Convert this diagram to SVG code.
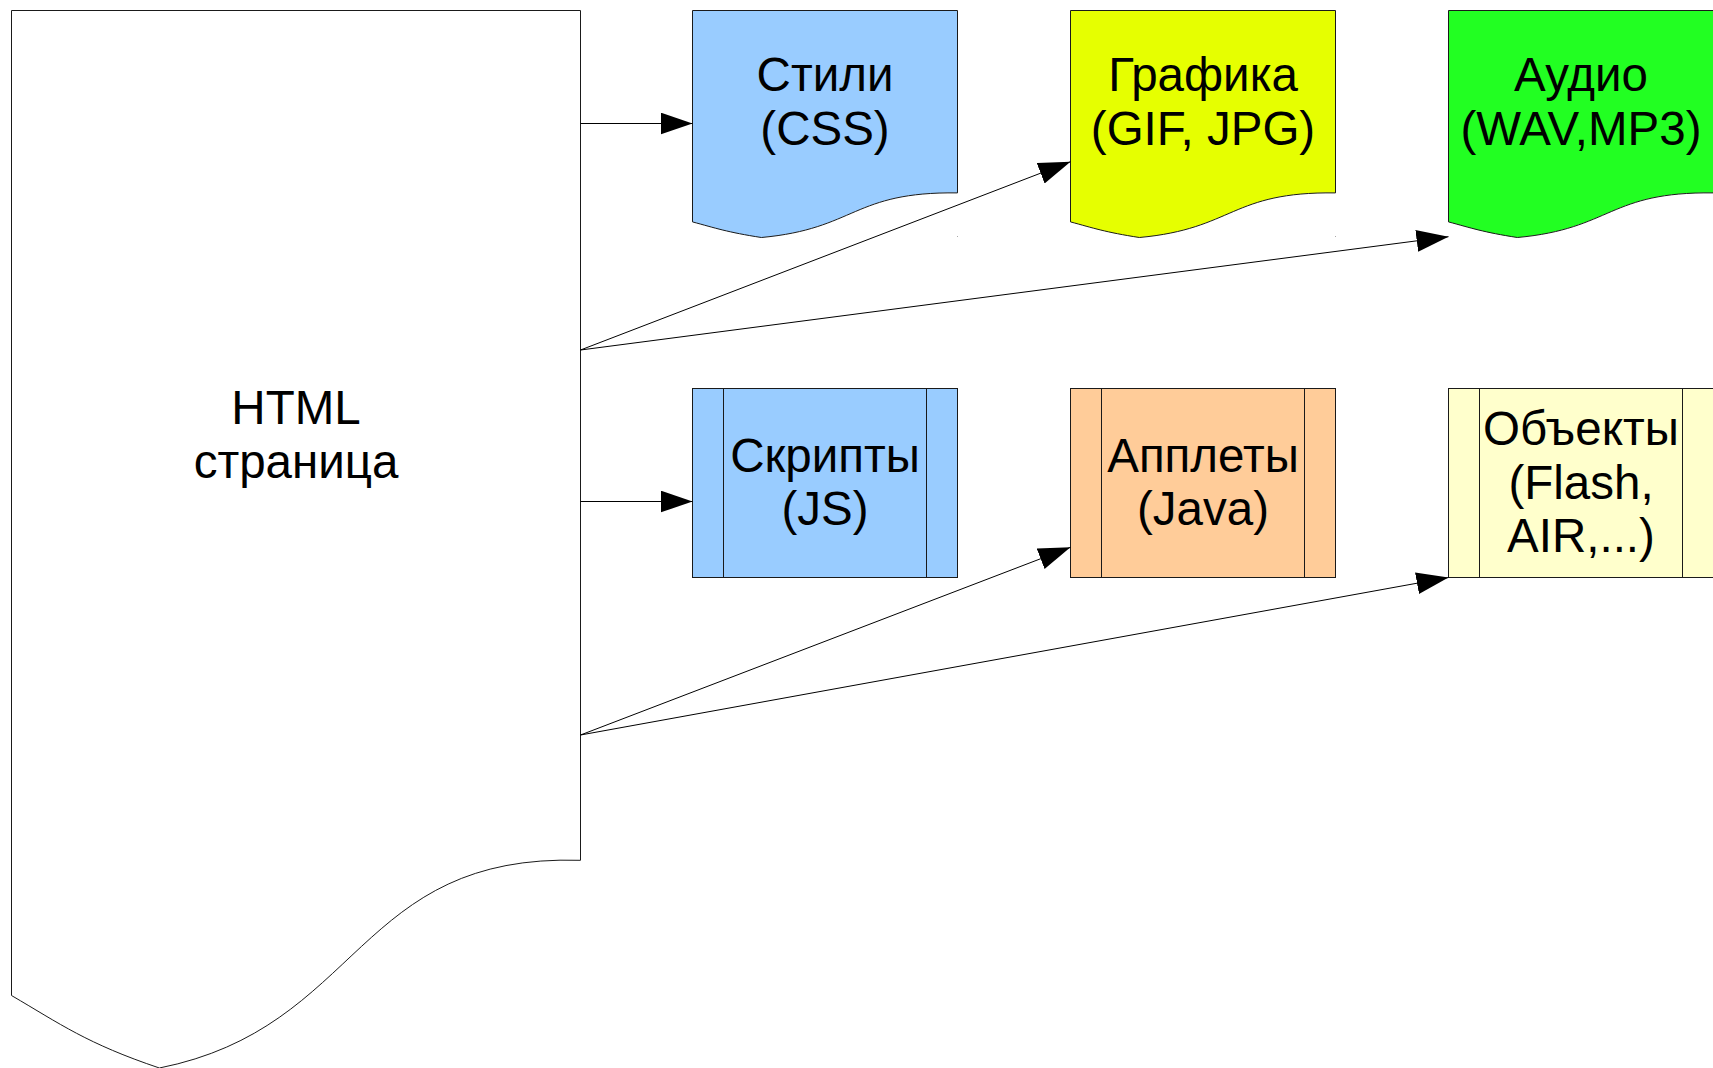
<svg xmlns="http://www.w3.org/2000/svg" width="1713" height="1068" viewBox="0 0 1713 1068">
  <style>
    .shape { stroke: #1a1a1a; stroke-width: 1; }
    .lbl { font-family: "Liberation Sans", Arial, sans-serif; font-size: 47.5px; fill: #000; text-anchor: middle; }
    .conn { stroke: #000; stroke-width: 1; fill: none; marker-end: url(#arrow); }
    .speck { fill: #aaaaaa; }
  </style>
  <defs>
    <marker id="arrow" markerUnits="userSpaceOnUse" markerWidth="33" markerHeight="23" refX="32" refY="11" orient="auto">
      <path d="M0,0 L32,11 L0,22 Z" fill="#000"/>
    </marker>
    <path id="docShape" d="M0,0 H265 V182.4 C160.1,181 163.7,218.3 68.9,227 C35.1,221.8 22.7,217.5 0,211.4 Z"/>
  </defs>
  <rect width="1713" height="1068" fill="#fff"/>

  <g id="html-page">
    <path class="shape" fill="#fff" d="M11.5,10.5 H580.5 V860.3 C355,853.4 362.6,1027.4 159.4,1068 C86.8,1043.6 60.2,1023.9 11.5,995.5 Z"/>
    <text class="lbl" x="296" y="424">HTML</text>
    <text class="lbl" x="296" y="477.5">страница</text>
  </g>

  <g id="styles">
    <use href="#docShape" class="shape" fill="#99ccff" transform="translate(692.5,10.5)"/>
    <text class="lbl" x="825" y="91">Стили</text>
    <text class="lbl" x="825" y="144.5">(CSS)</text>
  </g>

  <g id="graphics">
    <use href="#docShape" class="shape" fill="#e6ff00" transform="translate(1070.5,10.5)"/>
    <text class="lbl" x="1203" y="91">Графика</text>
    <text class="lbl" x="1203" y="144.5">(GIF, JPG)</text>
  </g>

  <g id="audio">
    <use href="#docShape" class="shape" fill="#22ff22" transform="translate(1448.5,10.5)"/>
    <text class="lbl" x="1581" y="91">Аудио</text>
    <text class="lbl" x="1581" y="144.5">(WAV,MP3)</text>
  </g>

  <g id="scripts">
    <rect class="shape" fill="#99ccff" x="692.5" y="388.5" width="265" height="189"/>
    <line class="shape" x1="723.5" y1="388.5" x2="723.5" y2="577.5"/>
    <line class="shape" x1="926.5" y1="388.5" x2="926.5" y2="577.5"/>
    <text class="lbl" x="825" y="471.5">Скрипты</text>
    <text class="lbl" x="825" y="525">(JS)</text>
  </g>

  <g id="applets">
    <rect class="shape" fill="#ffcc99" x="1070.5" y="388.5" width="265" height="189"/>
    <line class="shape" x1="1101.5" y1="388.5" x2="1101.5" y2="577.5"/>
    <line class="shape" x1="1304.5" y1="388.5" x2="1304.5" y2="577.5"/>
    <text class="lbl" x="1203" y="471.5">Апплеты</text>
    <text class="lbl" x="1203" y="525">(Java)</text>
  </g>

  <g id="objects">
    <rect class="shape" fill="#ffffcc" x="1448.5" y="388.5" width="265" height="189"/>
    <line class="shape" x1="1479.5" y1="388.5" x2="1479.5" y2="577.5"/>
    <line class="shape" x1="1682.5" y1="388.5" x2="1682.5" y2="577.5"/>
    <text class="lbl" x="1581" y="445">Объекты</text>
    <text class="lbl" x="1581" y="498.5">(Flash,</text>
    <text class="lbl" x="1581" y="552">AIR,...)</text>
  </g>

  <g id="specks">
    <rect class="speck" x="957" y="236" width="1" height="1"/>
    <rect class="speck" x="1335" y="236" width="1" height="1"/>
  </g>

  <g id="connectors">
    <path class="conn" d="M580.5,123.5 H692.5"/>
    <path class="conn" d="M580.5,350 L1070.5,161.7"/>
    <path class="conn" d="M580.5,350 L1448.5,236.7"/>
    <path class="conn" d="M580.5,501.5 H692.5"/>
    <path class="conn" d="M580.5,735 L1070.5,547.3"/>
    <path class="conn" d="M580.5,735 L1448.5,577.5"/>
  </g>
</svg>
